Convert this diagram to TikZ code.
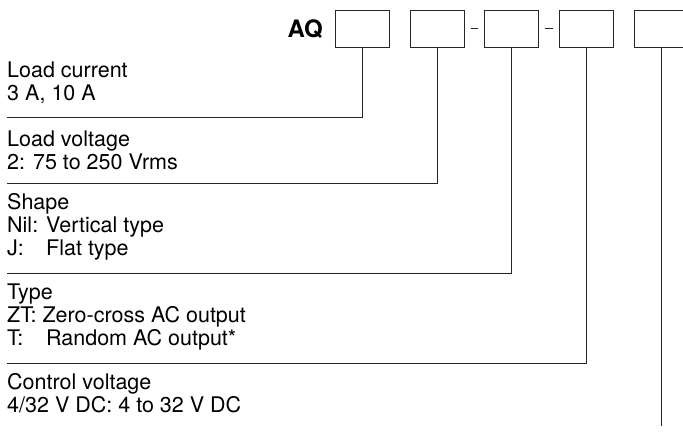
\documentclass[tikz,border=0pt]{standalone}
\usepackage{fontspec}
\setmainfont{TeX Gyre Heros}
\usetikzlibrary{positioning}

\newcommand{\keycol}[1]{\rlap{#1}\phantom{Nil: }}

\begin{document}
\begin{tikzpicture}[x=1pt,y=-1pt,
    digit/.style={draw=black!85, line width=1pt, minimum width=54pt, minimum height=37pt, inner sep=0pt},
    field/.style={anchor=base west, inner sep=0pt, align=left, font=\fontsize{21.5}{23}\selectfont},
    lead/.style={draw=black!85, line width=1pt}]
  \clip (0,0) rectangle (683,432);
  % part number boxes
  \node[anchor=east, inner sep=0pt, font=\fontsize{24}{24}\selectfont\bfseries] (aq) at (323,29) {AQ};
  \foreach \n/\x in {1/362,2/437,3/511,4/586,5/661}
    \node[digit] (b\n) at (\x,28.5) {};
  \draw[lead, shorten <=6pt, shorten >=6pt] (b2.east) -- (b3.west);
  \draw[lead, shorten <=6pt, shorten >=6pt] (b3.east) -- (b4.west);

  % descriptions (base = last line)
  \node[field] (cur) at (7,100.5) {Load current\\3 A, 10 A};
  \node[field] (volt) at (7,169.5) {Load voltage\\2: 75 to 250 Vrms};
  \node[field] (shape) at (7,255) {Shape\\Nil: Vertical type\\\keycol{J:}Flat type};
  \node[field] (type) at (7,345) {Type\\ZT: Zero-cross AC output\\\keycol{T:}Random AC output*};
  \node[field] (ctrl) at (7,412) {Control voltage\\4/32 V DC: 4 to 32 V DC};

  \coordinate (e1) at (7,117);
  \coordinate (e2) at (7,183);
  \coordinate (e3) at (7,273);
  \coordinate (e4) at (7,363);
  \coordinate (e5) at (661,426);
  \draw[lead] (b1.south) |- (e1);
  \draw[lead] (b2.south) |- (e2);
  \draw[lead] (b3.south) |- (e3);
  \draw[lead] (b4.south) |- (e4);
  \draw[lead] (b5.south) -- (e5);
\end{tikzpicture}
\end{document}
